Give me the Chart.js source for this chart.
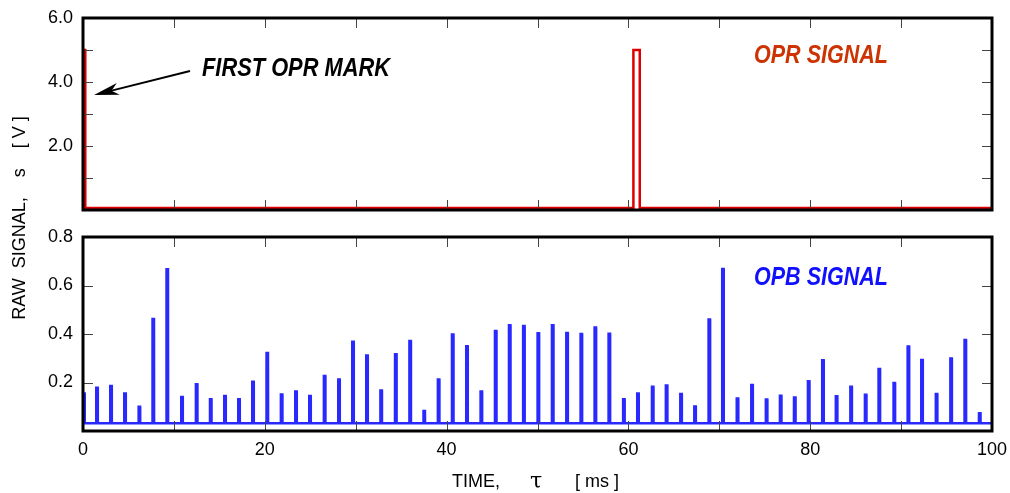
<!DOCTYPE html>
<html>
<head>
<meta charset="utf-8">
<script src="https://cdn.jsdelivr.net/npm/chart.js@4.4.1/dist/chart.umd.min.js"></script>
<style>
  html, body { margin: 0; padding: 0; background: #fff; }
  #wrap { position: relative; width: 1010px; height: 493px; }
  #wrap canvas { position: absolute; left: 0; top: 0; }
</style>
</head>
<body>
<div id="wrap">
  <canvas id="oprChart" width="1010" height="493"></canvas>
  <canvas id="opbChart" width="1010" height="493"></canvas>
</div>
<script>
// time axis, ms
const timeTicks = [0, 10, 20, 30, 40, 50, 60, 70, 80, 90, 100];
const timeLabels = [0, 20, 40, 60, 80, 100];

// OPR signal (step trace breakpoints)
const oprTime = [0, 0.25, 0.25, 60.55, 60.55, 61.25, 61.25, 100];
const oprVolts = [5.0, 5.0, 0.06, 0.06, 5.0, 5.0, 0.06, 0.06];
const oprTicks = [1, 2, 3, 4, 5, 6];
const oprLabels = [2, 4, 6];

// OPB signal: pulse centres (ms) and peak values (V)
const opbPeakTime = [
  0.1, 1.54, 3.08, 4.62, 6.2, 7.73, 9.27, 10.89, 12.5, 14.05, 15.62,
  17.16, 18.7, 20.27, 21.85, 23.43, 24.97, 26.58, 28.16, 29.7, 31.24, 32.8,
  34.41, 35.99, 37.54, 39.12, 40.67, 42.24, 43.82, 45.4, 46.94, 48.5,
  50.09, 51.67, 53.25, 54.82, 56.36, 57.9, 59.5, 61.05, 62.67, 64.2, 65.79,
  67.33, 68.9, 70.4, 72.0, 73.6, 75.2, 76.75, 78.3, 79.83, 81.4,
  82.9, 84.5, 86.1, 87.6, 89.25, 90.8, 92.3, 93.9, 95.5, 97.06, 98.65
];
const opbPeakVolts = [
  0.155, 0.178, 0.186, 0.155, 0.1, 0.462, 0.667, 0.14, 0.193, 0.131, 0.144,
  0.131, 0.203, 0.322, 0.151, 0.163, 0.144, 0.227, 0.212, 0.368, 0.311, 0.167,
  0.316, 0.371, 0.082, 0.212, 0.398, 0.35, 0.163, 0.412, 0.436, 0.433,
  0.403, 0.436, 0.404, 0.4, 0.427, 0.401, 0.131, 0.155, 0.182, 0.188, 0.153,
  0.101, 0.46, 0.668, 0.134, 0.19, 0.13, 0.145, 0.138, 0.205, 0.292,
  0.143, 0.182, 0.149, 0.256, 0.198, 0.348, 0.293, 0.153, 0.299, 0.375, 0.073
];
const opbBase = 0.032;
const opbTicks = [0.2, 0.4, 0.6, 0.8];

const FONT = '"Liberation Sans", Arial, Helvetica, sans-serif';
Chart.defaults.font.family = FONT;
Chart.defaults.color = '#000';

const oprPoints = oprTime.map((t, i) => ({ x: t, y: oprVolts[i] }));
const opbPoints = [{ x: 0, y: opbBase }];
opbPeakTime.forEach((t, i) => {
  const v = opbPeakVolts[i];
  opbPoints.push({ x: t - 0.09, y: opbBase }, { x: t - 0.08, y: v }, { x: t + 0.08, y: v }, { x: t + 0.09, y: opbBase });
});
opbPoints.push({ x: 100, y: opbBase });

// inward ticks on all four sides + heavy frame
const framePlugin = {
  id: 'frame',
  afterDatasetsDraw(chart) {
    const { ctx, chartArea: a, scales: { x, y } } = chart;
    ctx.save();
    ctx.strokeStyle = '#444';
    ctx.lineWidth = 1;
    ctx.beginPath();
    x.ticks.forEach(t => {
      if (t.value <= x.min || t.value >= x.max) return;
      const px = Math.round(x.getPixelForValue(t.value)) + 0.5;
      ctx.moveTo(px, a.top); ctx.lineTo(px, a.top + 10);
      ctx.moveTo(px, a.bottom); ctx.lineTo(px, a.bottom - 10);
    });
    y.ticks.forEach(t => {
      if (t.value <= y.min || t.value >= y.max) return;
      const py = Math.round(y.getPixelForValue(t.value)) + 0.5;
      ctx.moveTo(a.left, py); ctx.lineTo(a.left + 10, py);
      ctx.moveTo(a.right, py); ctx.lineTo(a.right - 10, py);
    });
    ctx.stroke();
    ctx.strokeStyle = '#000';
    ctx.lineWidth = 3;
    ctx.strokeRect(a.left, a.top, a.width, a.height);
    ctx.restore();
  }
};

// bold italic condensed label squeezed to a given width
function drawCondensed(ctx, text, x, baseline, width, size, color) {
  ctx.save();
  ctx.font = `italic bold ${size}px ${FONT}`;
  ctx.fillStyle = color;
  ctx.textAlign = 'left';
  ctx.textBaseline = 'alphabetic';
  const w = ctx.measureText(text).width;
  ctx.translate(x, baseline);
  ctx.scale(width / w, 1);
  ctx.fillText(text, 0, 0);
  ctx.restore();
}

const oprNotes = {
  id: 'oprNotes',
  afterDraw(chart) {
    const ctx = chart.ctx;
    drawCondensed(ctx, 'FIRST OPR MARK', 202, 76, 188, 26, '#000');
    drawCondensed(ctx, 'OPR SIGNAL', 754, 63, 134, 26, '#cc3300');
    // arrow to the first mark
    const tail = [190, 71], tip = [94, 95];
    const dx = tip[0] - tail[0], dy = tip[1] - tail[1];
    const len = Math.hypot(dx, dy), ux = dx / len, uy = dy / len;
    ctx.save();
    ctx.strokeStyle = '#000';
    ctx.fillStyle = '#000';
    ctx.lineWidth = 2;
    ctx.beginPath();
    ctx.moveTo(tail[0], tail[1]);
    ctx.lineTo(tip[0] - 16 * ux, tip[1] - 16 * uy);
    ctx.stroke();
    ctx.beginPath();
    ctx.moveTo(tip[0], tip[1]);
    ctx.lineTo(tip[0] - 25 * ux - 6 * uy, tip[1] - 25 * uy + 6 * ux);
    ctx.lineTo(tip[0] - 18 * ux, tip[1] - 18 * uy);
    ctx.lineTo(tip[0] - 25 * ux + 6 * uy, tip[1] - 25 * uy - 6 * ux);
    ctx.closePath();
    ctx.fill();
    // shared y title
    ctx.translate(20, 218);
    ctx.rotate(-Math.PI / 2);
    ctx.font = `18px ${FONT}`;
    ctx.textAlign = 'center';
    ctx.textBaseline = 'middle';
    ctx.fillText('RAW  SIGNAL,    s    [ V ]', 0, 0);
    ctx.restore();
  }
};

const opbNotes = {
  id: 'opbNotes',
  afterDraw(chart) {
    const ctx = chart.ctx;
    drawCondensed(ctx, 'OPB SIGNAL', 754, 285, 134, 26, '#1010ff');
    ctx.save();
    ctx.fillStyle = '#000';
    ctx.textBaseline = 'alphabetic';
    ctx.textAlign = 'left';
    ctx.font = `18px ${FONT}`;
    ctx.fillText('TIME,', 452, 487);
    ctx.fillText('[ ms ]', 575, 487);
    ctx.font = '22px "DejaVu Serif", serif';
    ctx.fillText('\u03c4', 530, 488);
    ctx.restore();
  }
};

function baseOptions(yMin, yMax, yTicks, yLabel, padding, xHeight, showX) {
  return {
    responsive: false,
    animation: false,
    events: [],
    layout: { padding },
    plugins: { legend: { display: false }, tooltip: { enabled: false } },
    scales: {
      x: {
        type: 'linear', min: 0, max: 100,
        afterBuildTicks: s => { s.ticks = timeTicks.map(v => ({ value: v })); },
        ticks: {
          display: showX, padding: 8, maxRotation: 0, autoSkip: false,
          font: { size: 18 }, color: '#000',
          callback: v => timeLabels.includes(v) ? String(v) : ''
        },
        grid: { display: false, drawTicks: false },
        border: { display: false },
        afterFit: s => { s.height = xHeight; s.paddingLeft = 0; s.paddingRight = 0; }
      },
      y: {
        min: yMin, max: yMax,
        afterBuildTicks: s => { s.ticks = yTicks.map(v => ({ value: v })); },
        ticks: { padding: 10, autoSkip: false, font: { size: 18 }, color: '#000', callback: yLabel },
        grid: { display: false, drawTicks: false },
        border: { display: false },
        afterFit: s => { s.width = 70; s.paddingTop = 0; s.paddingBottom = 0; }
      }
    }
  };
}

new Chart(document.getElementById('oprChart'), {
  type: 'line',
  data: {
    datasets: [{
      data: oprPoints, borderColor: '#dd0000', borderWidth: 2.5,
      pointRadius: 0, tension: 0, fill: false, borderJoinStyle: 'miter'
    }]
  },
  options: baseOptions(0, 6, oprTicks, v => oprLabels.includes(v) ? v.toFixed(1) : '',
    { left: 13, right: 18, top: 18, bottom: 283 }, 0, false),
  plugins: [framePlugin, oprNotes]
});

new Chart(document.getElementById('opbChart'), {
  type: 'line',
  data: {
    datasets: [{
      data: opbPoints, borderColor: '#2828ff', borderWidth: 2.5,
      pointRadius: 0, tension: 0, fill: false, borderJoinStyle: 'miter'
    }]
  },
  options: baseOptions(0, 0.8, opbTicks, v => v.toFixed(1),
    { left: 13, right: 18, top: 237, bottom: 22 }, 40, true),
  plugins: [framePlugin, opbNotes]
});
</script>
</body>
</html>
